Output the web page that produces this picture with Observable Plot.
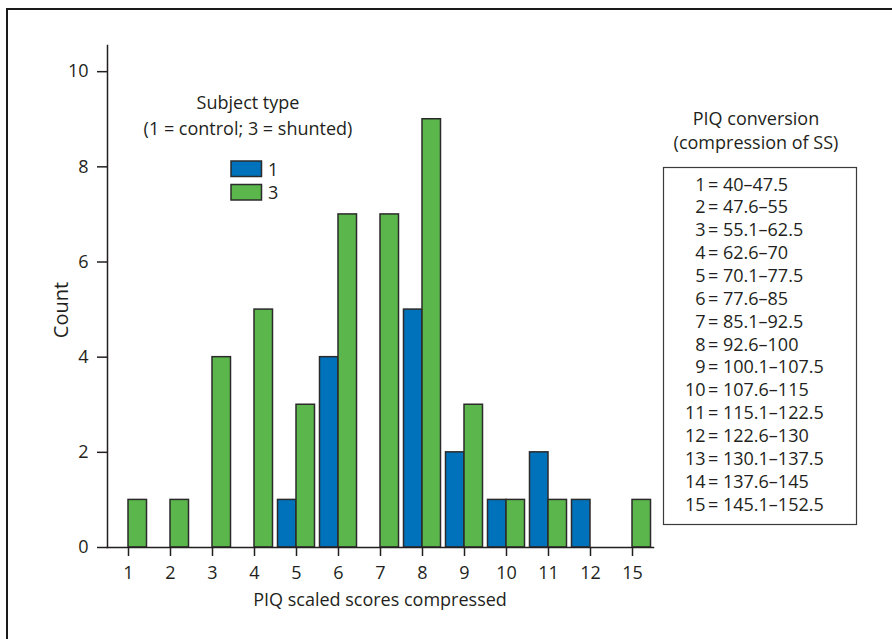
<!DOCTYPE html>
<html>
<head>
<meta charset="utf-8">
<script src="https://cdn.jsdelivr.net/npm/d3@7"></script>
<script src="https://cdn.jsdelivr.net/npm/@observablehq/plot@0.6"></script>
<style>
  html, body { margin: 0; padding: 0; background: #fff; }
  #wrap { position: relative; width: 892px; height: 639px; overflow: hidden; font-family: "Open Sans", sans-serif; color: #231f20; }
  #wrap > svg, #wrap > figure { position: absolute; left: 0; top: 0; }
</style>
</head>
<body>
<div id="wrap"></div>
<script>
// ---- data ----
const categories = ["1","2","3","4","5","6","7","8","9","10","11","12","15"];
const controlCounts = [0,0,0,0,1,4,0,5,2,1,2,1,0];   // subject type 1
const shuntedCounts = [1,1,4,5,3,7,7,9,3,1,1,0,1];   // subject type 3
const yTicks = [0,2,4,6,8,10];
const legendTitle = ["Subject type", "(1 = control; 3 = shunted)"];
const legendLabels = ["1", "3"];
const tableTitle = ["PIQ conversion", "(compression of SS)"];
const tableCodes = ["1","2","3","4","5","6","7","8","9","10","11","12","13","14","15"];
const tableRanges = ["40–47.5","47.6–55","55.1–62.5","62.6–70","70.1–77.5","77.6–85","85.1–92.5","92.6–100","100.1–107.5","107.6–115","115.1–122.5","122.6–130","130.1–137.5","137.6–145","145.1–152.5"];
const xTitle = "PIQ scaled scores compressed";
const yTitle = "Count";

const BLUE = "#0072bc", GREEN = "#5bb74b", STROKE = "#2b2b2b", INK = "#231f20";

const controlRows = categories.map((c, i) => ({cat: c, count: controlCounts[i]})).filter(d => d.count > 0);
const shuntedRows = categories.map((c, i) => ({cat: c, count: shuntedCounts[i]})).filter(d => d.count > 0);

const plot = Plot.plot({
  width: 892,
  height: 639,
  marginLeft: 107,
  marginRight: 239,
  marginTop: 45,
  marginBottom: 92,
  style: {fontFamily: "'Open Sans', sans-serif", fontSize: "18px", color: INK, background: "transparent", overflow: "visible"},
  x: {type: "band", domain: categories, padding: 0, align: 0.5},
  y: {domain: [0, 10.55]},
  marks: [
    Plot.barY(controlRows, {x: "cat", y: "count", fill: BLUE, stroke: STROKE, strokeWidth: 1.5, insetLeft: 2.5, insetRight: 21}),
    Plot.barY(shuntedRows, {x: "cat", y: "count", fill: GREEN, stroke: STROKE, strokeWidth: 1.5, insetLeft: 21, insetRight: 2.5}),
    Plot.frame({anchor: "left", stroke: INK, strokeWidth: 1.5}),
    Plot.frame({anchor: "bottom", stroke: INK, strokeWidth: 1.5}),
    Plot.axisY({ticks: yTicks, tickSize: 10, tickPadding: 9, label: null, stroke: INK, strokeWidth: 1.5, fill: INK, fontSize: 18}),
    Plot.axisX({tickSize: 9, tickPadding: 10, label: null, stroke: INK, strokeWidth: 1.5, fill: INK, fontSize: 18})
  ]
});
const wrap = document.getElementById("wrap");
wrap.appendChild(plot);

// ---- annotations overlay ----
const svg = d3.select(wrap).append("svg")
  .attr("width", 892).attr("height", 639)
  .style("font-family", "'Open Sans', sans-serif").style("font-size", "18px")
  .attr("fill", INK);

// outer frame (top + left)
svg.append("path").attr("d", "M7,640 V9 H892").attr("fill", "none").attr("stroke", "#1a1a1a").attr("stroke-width", 2);

// axis titles
svg.append("text").attr("x", 380).attr("y", 606).attr("text-anchor", "middle").text(xTitle);
svg.append("text").attr("transform", "translate(68,310) rotate(-90)").attr("text-anchor", "middle").style("font-size", "20px").text(yTitle);

// legend
legendTitle.forEach((t, i) => svg.append("text").attr("x", 248).attr("y", 109 + i * 26).attr("text-anchor", "middle").text(t));
[BLUE, GREEN].forEach((c, i) => {
  svg.append("rect").attr("x", 231).attr("y", 161 + i * 23.5).attr("width", 30.5).attr("height", 15.5)
    .attr("fill", c).attr("stroke", STROKE).attr("stroke-width", 1.5);
  svg.append("text").attr("x", 268).attr("y", 175.5 + i * 23.5).text(legendLabels[i]);
});

// conversion table
tableTitle.forEach((t, i) => svg.append("text").attr("x", 756).attr("y", 125 + i * 24).attr("text-anchor", "middle").text(t));
svg.append("rect").attr("x", 663.5).attr("y", 167.5).attr("width", 193).attr("height", 357)
  .attr("fill", "none").attr("stroke", "#3a3a3a").attr("stroke-width", 1.2);
tableCodes.forEach((c, i) => {
  const y = 190.5 + i * 22.86;
  svg.append("text").attr("x", 705.5).attr("y", y).attr("text-anchor", "end").text(c);
  svg.append("text").attr("x", 708).attr("y", y).text("= " + tableRanges[i]);
});
</script>
</body>
</html>
